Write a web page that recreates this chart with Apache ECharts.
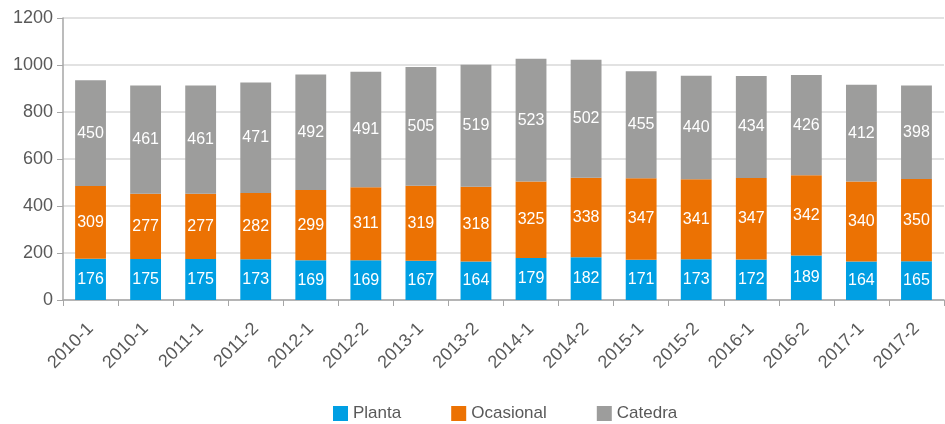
<!DOCTYPE html>
<html>
<head>
<meta charset="utf-8">
<script src="https://cdn.jsdelivr.net/npm/echarts@6/dist/echarts.min.js"></script>
<style>
  html, body { margin: 0; padding: 0; background: #fff; }
  #main { width: 945px; height: 424px; }
</style>
</head>
<body>
<div id="main"></div>
<script>
var categories = ['2010-1', '2010-1', '2011-1', '2011-2', '2012-1', '2012-2', '2013-1', '2013-2',
    '2014-1', '2014-2', '2015-1', '2015-2', '2016-1', '2016-2', '2017-1', '2017-2'];
var planta = [176, 175, 175, 173, 169, 169, 167, 164, 179, 182, 171, 173, 172, 189, 164, 165];
var ocasional = [309, 277, 277, 282, 299, 311, 319, 318, 325, 338, 347, 341, 347, 342, 340, 350];
var catedra = [450, 461, 461, 471, 492, 491, 505, 519, 523, 502, 455, 440, 434, 426, 412, 398];

var font = '"Liberation Sans", Arial, sans-serif';

var chart = echarts.init(document.getElementById('main'));

function makeSeries(name, data, color) {
    return {
        name: name,
        type: 'bar',
        stack: 'total',
        data: data,
        barWidth: '56%',
        itemStyle: { color: color },
        label: {
            show: true,
            position: 'inside',
            color: '#fff',
            fontFamily: font,
            fontSize: 16
        }
    };
}

var option = {
    animation: false,
    textStyle: { fontFamily: font },
    grid: { left: 63, right: 1, top: 18, bottom: 124 },
    legend: {
        left: 328,
        top: 400,
        itemWidth: 15,
        itemHeight: 15,
        itemGap: 50,
        icon: 'rect',
        textStyle: { color: '#595959', fontFamily: font, fontSize: 17 },
        data: ['Planta', 'Ocasional', 'Catedra']
    },
    xAxis: {
        type: 'category',
        data: categories,
        axisLine: { lineStyle: { color: '#a6a6a6', width: 1.5 } },
        axisTick: { show: true, length: 6, lineStyle: { color: '#a6a6a6' } },
        axisLabel: {
            rotate: 45,
            interval: 0,
            color: '#595959',
            fontFamily: font,
            fontSize: 18,
            margin: 26
        }
    },
    yAxis: {
        type: 'value',
        min: 0,
        max: 1200,
        interval: 200,
        axisLine: { show: true, lineStyle: { color: '#a6a6a6', width: 1.5 } },
        axisTick: { show: true, length: 6, lineStyle: { color: '#a6a6a6' } },
        splitLine: { lineStyle: { color: '#d9d9d9', width: 1.5 } },
        axisLabel: {
            color: '#595959',
            fontFamily: font,
            fontSize: 18,
            margin: 10,
            formatter: function (v) { return String(v); }
        }
    },
    series: [
        makeSeries('Planta', planta, '#009fe3'),
        makeSeries('Ocasional', ocasional, '#ec7203'),
        makeSeries('Catedra', catedra, '#9d9d9c')
    ]
};

chart.setOption(option);
</script>
</body>
</html>
